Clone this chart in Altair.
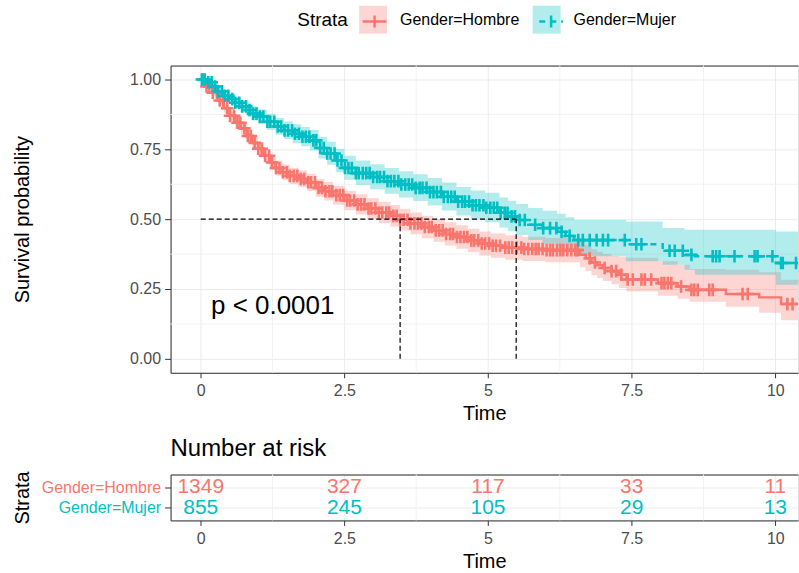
import altair as alt
import numpy as np
import pandas as pd

FONT = "Liberation Sans"
STRATA = ["Gender=Hombre", "Gender=Mujer"]
LINE_KEYS = ["Hombre", "Mujer"]
COLORS = ["#F8766D", "#00BFC4"]

# ---- Kaplan-Meier step curves ----
hombre_time = [0, 0.1, 0.2, 0.3, 0.4, 0.5, 0.6, 0.7, 0.8, 0.9, 1.0, 1.1, 1.2, 1.3, 1.42, 1.55, 1.7, 1.85,
               2.0, 2.15, 2.3, 2.5, 2.7, 2.9, 3.1, 3.3, 3.47, 3.65, 3.85, 4.05, 4.25, 4.45, 4.65, 4.85,
               5.05, 5.3, 5.6, 6.0, 6.6, 6.7, 6.8, 6.9, 7.0, 7.15, 7.28, 7.41, 7.96, 8.3, 8.51, 9.14,
               9.72, 10.1, 10.6]
hombre_surv = [1.0, 0.975, 0.953, 0.925, 0.897, 0.87, 0.845, 0.825, 0.798, 0.773, 0.752, 0.727, 0.703,
               0.683, 0.668, 0.655, 0.644, 0.632, 0.612, 0.6, 0.586, 0.567, 0.553, 0.538, 0.524, 0.512,
               0.498, 0.485, 0.472, 0.46, 0.447, 0.436, 0.424, 0.413, 0.405, 0.398, 0.393, 0.389, 0.373,
               0.36, 0.345, 0.335, 0.325, 0.314, 0.301, 0.284, 0.271, 0.259, 0.247, 0.232, 0.22, 0.196,
               0.196]
hombre_lower = [1.0, 0.967, 0.942, 0.911, 0.881, 0.852, 0.825, 0.804, 0.776, 0.75, 0.728, 0.702, 0.677,
                0.656, 0.64, 0.626, 0.614, 0.601, 0.58, 0.567, 0.552, 0.532, 0.517, 0.501, 0.486, 0.473,
                0.459, 0.446, 0.432, 0.419, 0.406, 0.394, 0.382, 0.37, 0.362, 0.355, 0.35, 0.346, 0.328,
                0.314, 0.299, 0.289, 0.279, 0.267, 0.254, 0.241, 0.226, 0.215, 0.204, 0.186, 0.165,
                0.138, 0.138]
hombre_upper = [1.0, 0.983, 0.964, 0.938, 0.913, 0.888, 0.864, 0.846, 0.82, 0.796, 0.776, 0.752, 0.729,
                0.71, 0.696, 0.684, 0.674, 0.663, 0.644, 0.633, 0.62, 0.602, 0.589, 0.575, 0.562, 0.551,
                0.537, 0.524, 0.512, 0.501, 0.489, 0.478, 0.466, 0.456, 0.449, 0.442, 0.437, 0.433, 0.418,
                0.406, 0.392, 0.383, 0.375, 0.368, 0.365, 0.362, 0.349, 0.337, 0.322, 0.319, 0.31,
                0.283, 0.283]

mujer_time = [0, 0.1, 0.2, 0.3, 0.4, 0.5, 0.6, 0.7, 0.8, 0.9, 1.0, 1.15, 1.3, 1.45, 1.6, 1.75, 1.9,
              2.05, 2.2, 2.35, 2.5, 2.7, 2.95, 3.2, 3.45, 3.7, 3.95, 4.2, 4.45, 4.7, 4.95, 5.2, 5.35,
              5.49, 5.7, 5.95, 6.2, 6.35, 6.5, 7.4, 8.04, 8.42, 8.6, 10.01, 10.6]
mujer_surv = [1.0, 0.99, 0.975, 0.958, 0.942, 0.93, 0.917, 0.904, 0.891, 0.878, 0.867, 0.849, 0.832,
              0.818, 0.806, 0.795, 0.782, 0.755, 0.735, 0.71, 0.683, 0.665, 0.651, 0.636, 0.624, 0.612,
              0.597, 0.58, 0.563, 0.55, 0.541, 0.523, 0.51, 0.497, 0.48, 0.468, 0.455, 0.44, 0.425,
              0.41, 0.387, 0.372, 0.367, 0.343, 0.343]
mujer_lower = [1.0, 0.983, 0.964, 0.944, 0.926, 0.912, 0.898, 0.883, 0.868, 0.853, 0.84, 0.82, 0.802,
               0.787, 0.773, 0.761, 0.746, 0.717, 0.695, 0.668, 0.641, 0.622, 0.607, 0.591, 0.578,
               0.565, 0.549, 0.531, 0.513, 0.499, 0.489, 0.47, 0.457, 0.443, 0.425, 0.412, 0.398,
               0.382, 0.367, 0.349, 0.337, 0.319, 0.301, 0.265, 0.265]
mujer_upper = [1.0, 0.997, 0.986, 0.972, 0.958, 0.948, 0.936, 0.925, 0.914, 0.903, 0.893, 0.877, 0.862,
               0.85, 0.84, 0.83, 0.819, 0.795, 0.777, 0.752, 0.727, 0.71, 0.697, 0.683, 0.672, 0.661,
               0.647, 0.631, 0.615, 0.603, 0.595, 0.578, 0.566, 0.554, 0.54, 0.53, 0.519, 0.507, 0.497,
               0.492, 0.468, 0.462, 0.462, 0.456, 0.456]

# ---- censoring times ("+" marks) ----
hombre_censor = [0.04, 0.1, 0.15, 0.21, 0.28, 0.33, 0.39, 0.46, 0.51, 0.58, 0.64, 0.69, 0.76, 0.82, 0.87,
                 0.94, 1.0, 1.06, 1.12, 1.19, 1.24, 1.31, 1.37, 1.43, 1.5, 1.55, 1.62, 1.68, 1.74, 1.8,
                 1.87, 1.92, 1.99, 2.05, 2.11, 2.17, 2.24, 2.29, 2.36, 2.42, 2.48, 2.55, 2.6, 2.67, 2.73,
                 2.79, 2.85, 2.92, 2.97, 3.04, 3.1, 3.16, 3.23, 3.28, 3.35, 3.41, 3.47, 3.53, 3.6, 3.65,
                 3.72, 3.78, 3.84, 3.9, 3.97, 4.02, 4.09, 4.15, 4.21, 4.27, 4.34, 4.39, 4.46, 4.52, 4.58,
                 4.64, 4.71, 4.76, 4.83, 4.89, 4.95, 5.02, 5.08, 5.14, 5.21, 5.3, 5.36, 5.42, 5.5, 5.58,
                 5.63, 5.7, 5.77, 5.83, 5.88, 5.95, 6.02, 6.08, 6.13, 6.2, 6.26, 6.31, 6.38, 6.45, 6.52,
                 6.56, 6.77, 6.86, 7.03, 7.15, 7.23, 7.32, 7.43, 7.52, 7.67, 7.73, 7.84, 8.02, 8.07, 8.13,
                 8.19, 8.36, 8.54, 8.59, 8.65, 8.85, 8.91, 9.43, 9.52, 10.21, 10.3]
mujer_censor = [0.02, 0.07, 0.13, 0.19, 0.25, 0.3, 0.37, 0.42, 0.48, 0.55, 0.6, 0.67, 0.72, 0.79, 0.85,
                0.91, 0.97, 1.03, 1.09, 1.16, 1.21, 1.28, 1.34, 1.4, 1.46, 1.52, 1.59, 1.64, 1.71, 1.77,
                1.83, 1.89, 1.96, 2.01, 2.08, 2.14, 2.2, 2.26, 2.33, 2.38, 2.45, 2.51, 2.57, 2.63, 2.7,
                2.75, 2.82, 2.88, 2.94, 3.0, 3.07, 3.12, 3.19, 3.25, 3.31, 3.37, 3.44, 3.49, 3.56, 3.62,
                3.68, 3.74, 3.81, 3.86, 3.93, 3.99, 4.05, 4.11, 4.18, 4.23, 4.3, 4.36, 4.42, 4.48, 4.55,
                4.6, 4.67, 4.73, 4.79, 4.85, 4.92, 4.97, 5.04, 5.1, 5.16, 5.22, 5.29, 5.34, 5.41, 5.47,
                5.55, 5.64, 5.82, 5.96, 6.08, 6.19, 6.28, 6.42, 6.57, 6.65, 6.77, 6.89, 7.0, 7.09, 7.38,
                7.58, 7.67, 8.16, 8.25, 8.39, 8.54, 8.91, 8.97, 9.03, 9.29, 9.64, 9.69, 9.95, 10.1,
                10.13, 10.36]

median_time = [3.47, 5.49]
median_surv = 0.5
pval_label = "p < 0.0001"
pval_x = 0.18
pval_y = 0.19

# ---- risk table ----
risk_time = [0, 2.5, 5, 7.5, 10]
risk_hombre = [1349, 327, 117, 33, 11]
risk_mujer = [855, 245, 105, 29, 13]

x_ticks = [0, 2.5, 5, 7.5, 10]
x_minor = [1.25, 3.75, 6.25, 8.75]
y_ticks = [0, 0.25, 0.5, 0.75, 1.0]
y_minor = [0.125, 0.375, 0.625, 0.875]


def step_lookup(times, values, at):
    idx = np.searchsorted(np.asarray(times), np.asarray(at), side="right") - 1
    return np.asarray(values)[idx]


curve = pd.concat([
    pd.DataFrame({"strata": STRATA[0], "key": LINE_KEYS[0], "time": hombre_time, "surv": hombre_surv,
                  "lower": hombre_lower, "upper": hombre_upper}),
    pd.DataFrame({"strata": STRATA[1], "key": LINE_KEYS[1], "time": mujer_time, "surv": mujer_surv,
                  "lower": mujer_lower, "upper": mujer_upper}),
], ignore_index=True)

censor = pd.concat([
    pd.DataFrame({"strata": STRATA[0], "time": hombre_censor,
                  "surv": step_lookup(hombre_time, hombre_surv, hombre_censor)}),
    pd.DataFrame({"strata": STRATA[1], "time": mujer_censor,
                  "surv": step_lookup(mujer_time, mujer_surv, mujer_censor)}),
], ignore_index=True)

medians_h = pd.DataFrame({"x": [0.0], "x2": [max(median_time)], "y": [median_surv]})
medians_v = pd.DataFrame({"x": median_time, "y": [0.0] * len(median_time),
                          "y2": [median_surv] * len(median_time)})
pval_df = pd.DataFrame({"x": [pval_x], "y": [pval_y], "label": [pval_label]})

risk = pd.DataFrame({
    "strata": [STRATA[0]] * len(risk_time) + [STRATA[1]] * len(risk_time),
    "time": risk_time + risk_time,
    "n": risk_hombre + risk_mujer,
})

# ---- scales / axes ----
x_scale = alt.Scale(domain=[-0.525, 10.395], nice=False, zero=False)
y_scale = alt.Scale(domain=[-0.05, 1.05], nice=False, zero=False)
color_scale = alt.Scale(domain=STRATA, range=COLORS)
DARK = "#333333"
GRID = "#EBEBEB"
MINOR = "#F2F2F2"


def bottom_axis():
    return alt.Axis(orient="bottom", title="Time", values=x_ticks, format=".1~f", grid=True,
                    gridColor=GRID, gridWidth=1, domainColor=DARK, domainWidth=1, tickColor=DARK,
                    tickSize=5, labelFontSize=16, labelColor="#4D4D4D", labelPadding=5,
                    titleFontSize=20, titleColor="black", titleFontWeight="normal", titlePadding=5,
                    labelFont=FONT, titleFont=FONT)


def top_border_axis():
    return alt.Axis(orient="top", title=None, labels=False, ticks=False, grid=False,
                    domain=True, domainColor=DARK, domainWidth=1)


left_axis_main = alt.Axis(
    orient="left", title="Survival probability", values=y_ticks, format=".2f", grid=True,
    gridColor=GRID, gridWidth=1, domainColor=DARK, tickColor=DARK, tickSize=6,
    labelFontSize=16, labelColor="#4D4D4D", labelPadding=4, titleFontSize=20,
    titleColor="black", titleFontWeight="normal", titleX=-148, titleBaseline="middle",
    labelFont=FONT, titleFont=FONT)

legend_common = dict(orient="none", legendY=-60, direction="horizontal",
                     titleOrient="left", titleFontSize=19, titleColor="black", titleFontWeight="normal",
                     titlePadding=11, titleFont=FONT, labelFont=FONT, labelFontSize=16,
                     labelColor="black", labelOffset=13, symbolSize=784, padding=0)

fill_legend = alt.Legend(title="Strata", legendX=127, columnPadding=13, symbolType="square",
                         symbolOpacity=0.3, symbolStrokeWidth=0, **legend_common)
line_legend = alt.Legend(title=None, legendX=189, columnPadding=131,
                         symbolType="M-0.85,0H0.85M0,0V-0.43M0,0V0.43",
                         symbolStrokeWidth=2.5, symbolFillColor="transparent", labelExpr="''",
                         **legend_common)

minor_x_layer = alt.Chart(pd.DataFrame({"v": x_minor})).mark_rule(
    color=MINOR, strokeWidth=1).encode(x=alt.X("v:Q", scale=x_scale, axis=top_border_axis()))
minor_y_layer = alt.Chart(pd.DataFrame({"v": y_minor})).mark_rule(
    color=MINOR, strokeWidth=1).encode(y=alt.Y("v:Q", scale=y_scale, axis=None))

band = alt.Chart(curve).mark_area(interpolate="step-after", opacity=0.3, clip=True).encode(
    x=alt.X("time:Q", scale=x_scale, axis=bottom_axis()),
    y=alt.Y("lower:Q", scale=y_scale, axis=left_axis_main),
    y2="upper:Q",
    fill=alt.Fill("strata:N", scale=color_scale, legend=fill_legend),
)

line = alt.Chart(curve).mark_line(interpolate="step-after", strokeWidth=2.5, clip=True).encode(
    x=alt.X("time:Q", scale=x_scale, axis=None),
    y=alt.Y("surv:Q", scale=y_scale, axis=None),
    stroke=alt.Stroke("key:N", scale=alt.Scale(domain=LINE_KEYS, range=COLORS), legend=line_legend),
    strokeDash=alt.StrokeDash("key:N", scale=alt.Scale(domain=LINE_KEYS, range=[[1, 0], [6, 5]]),
                              legend=line_legend),
)

points = alt.Chart(censor).mark_point(shape="M-1,0H1M0,-1V1", size=160, strokeWidth=2.6,
                                      filled=False, opacity=1, clip=True).encode(
    x=alt.X("time:Q", scale=x_scale, axis=None),
    y=alt.Y("surv:Q", scale=y_scale, axis=None),
    color=alt.Color("strata:N", scale=color_scale, legend=None),
)

med_h = alt.Chart(medians_h).mark_rule(color="black", strokeDash=[5, 3], strokeWidth=1.2).encode(
    x=alt.X("x:Q", scale=x_scale, axis=None), x2="x2:Q",
    y=alt.Y("y:Q", scale=y_scale, axis=None))
med_v = alt.Chart(medians_v).mark_rule(color="black", strokeDash=[5, 3], strokeWidth=1.2).encode(
    x=alt.X("x:Q", scale=x_scale, axis=None),
    y=alt.Y("y:Q", scale=y_scale, axis=None), y2="y2:Q")

pval = alt.Chart(pval_df).mark_text(align="left", baseline="middle", fontSize=26, color="black",
                                    font=FONT).encode(
    x=alt.X("x:Q", scale=x_scale, axis=None),
    y=alt.Y("y:Q", scale=y_scale, axis=None),
    text="label:N")

main = alt.layer(minor_x_layer, minor_y_layer, band, line, points, med_h, med_v, pval).properties(
    width=629, height=308).resolve_axis(x="independent", y="independent")

# ---- risk table ----
risk_minor = alt.Chart(pd.DataFrame({"v": x_minor})).mark_rule(
    color=MINOR, strokeWidth=1).encode(x=alt.X("v:Q", scale=x_scale, axis=top_border_axis()))

risk_text = alt.Chart(risk).mark_text(fontSize=21, baseline="middle", align="center", font=FONT).encode(
    x=alt.X("time:Q", scale=x_scale, axis=bottom_axis()),
    y=alt.Y("strata:N", scale=alt.Scale(type="point", domain=STRATA, padding=0.6),
            axis=alt.Axis(orient="left", title="Strata", grid=True, gridColor=GRID, gridWidth=1,
                          domainColor=DARK, tickColor=DARK, tickSize=6, labelFontSize=16,
                          labelColor=alt.condition("datum.value == 'Gender=Hombre'",
                                                   alt.value(COLORS[0]), alt.value(COLORS[1])),
                          labelPadding=4, titleFontSize=20, titleColor="black",
                          titleFontWeight="normal", titleX=-148, titleBaseline="middle",
                          labelFont=FONT, titleFont=FONT)),
    color=alt.Color("strata:N", scale=color_scale, legend=None),
    text="n:Q",
)

risk_chart = alt.layer(risk_minor, risk_text).properties(
    width=629, height=46,
    title=alt.TitleParams("Number at risk", anchor="start", frame="group", fontSize=24,
                          fontWeight="normal", color="black", font=FONT, offset=10),
).resolve_axis(x="independent", y="independent")

chart = alt.vconcat(main, risk_chart, spacing=11).properties(
    padding={"left": 12, "top": 5, "right": 0, "bottom": 0}
).configure_view(stroke=None).configure(font=FONT)

chart.save("out.html", embed_options={"renderer": "svg", "actions": False})
